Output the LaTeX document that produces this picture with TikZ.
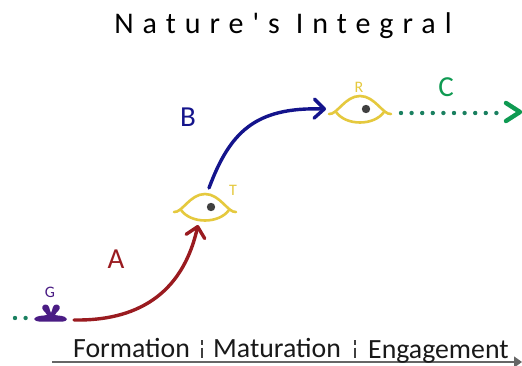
\documentclass[tikz,border=0pt]{standalone}
\usepackage{fontspec}
\setmainfont{Carlito}
\newfontfamily\titlefont[LetterSpace=30]{Carlito}
\usetikzlibrary{arrows.meta}
\definecolor{cA}{HTML}{9A1B20}
\definecolor{cB}{HTML}{14148C}
\definecolor{cC}{HTML}{0F9A52}
\definecolor{cDot}{HTML}{1A8060}
\definecolor{cEye}{HTML}{E5C93E}
\definecolor{cG}{HTML}{4A1C84}
\definecolor{cAxis}{HTML}{666666}
\tikzset{
  lbl/.style={inner sep=0pt,font=\fontsize{29pt}{29pt}\selectfont},
  small/.style={inner sep=0pt,font=\fontsize{16pt}{16pt}\selectfont},
  stage/.style={inner sep=0pt,anchor=base west,font=\fontsize{27.8pt}{27.8pt}\selectfont,text=black!90},
  flow/.style={line width=3.4pt,line cap=round,-{Straight Barb[length=10pt,width=19pt,line width=3.4pt,round]}},
  eyeline/.style={draw=cEye,line width=2.6pt,line cap=round},
  dots/.style={line width=4.4pt,line cap=round,dash pattern=on 0pt off 10.6pt},
  sep/.style={draw=black!75,line width=1.3pt,dash pattern=on 5pt off 2.5pt on 10pt off 2pt}
}
\newcommand{\eyeshape}[3]{%
  \draw[eyeline] (#1-31,#2) .. controls (#1-23,#2+1) and (#1-15,#2-18) .. (#1,#2-18)
     .. controls (#1+15,#2-18) and (#1+23,#2+1) .. (#1+31,#2);
  \draw[eyeline] (#1-24,#2-2) .. controls (#1-14,#2+12) and (#1+14,#2+12) .. (#1+24,#2-2);
  \fill[black!75] (#1+#3,#2-5) circle (4.2pt);
}
\begin{document}
\begin{tikzpicture}[x=1pt,y=-1pt]
\useasboundingbox[fill=white] (0,0) rectangle (522,366);
\node[inner sep=0pt,font=\fontsize{30pt}{30pt}\selectfont\titlefont] (title) at (283,26) {Nature's Integral};

% growth point G
\fill[cG] (34,319) .. controls (36,315) and (44,316) .. (47,315)
  .. controls (46,312) and (41,310) .. (42.5,306.5)
  .. controls (43.5,303.5) and (48,304) .. (49,307)
  .. controls (49.5,309) and (50.5,312) .. (51,313)
  .. controls (51.5,312) and (52.5,309) .. (53,307)
  .. controls (54,304) and (58.5,303.5) .. (59.5,306.5)
  .. controls (61,310) and (56,312) .. (55,315)
  .. controls (58,316) and (65,315) .. (67,319)
  .. controls (66,322.5) and (62,321.5) .. (51,321.5)
  .. controls (40,321.5) and (36,322.5) .. (34,319) -- cycle;
\node[small,text=cG] (g) at (50,292) {G};
\coordinate (gL) at (15,318);
\coordinate (gR) at (30,318);
\draw[cDot,dots] (gL) -- (gR);

% eyes
\eyeshape{205}{212}{6}
\node[small,text=cEye] (t) at (233,190) {T};
\eyeshape{360}{114}{6}
\node[small,text=cEye] (r) at (359,87) {R};

% connectors
\coordinate (aS) at (74,320);
\coordinate (aE) at (198,225);
\draw[flow,cA] (aS) .. controls (135,321) and (182,296) .. (aE);
\coordinate (bS) at (209,188);
\coordinate (bE) at (326,109);
\draw[flow,cB] (bS) .. controls (230,132) and (255,107) .. (bE);
\coordinate (cS) at (401,113);
\coordinate (cE) at (498,113);
\draw[cDot,dots] (cS) -- (cE);
\draw[cC,line width=4.4pt,line cap=round,line join=round] (506,103) -- (520,112) -- (506,121);

\node[lbl,text=cA] (a) at (116,259) {A};
\node[lbl,text=cB] (b) at (188,117) {B};
\node[lbl,text=cC] (c) at (446,87) {C};

% axis
\coordinate (ax0) at (52,362);
\coordinate (ax1) at (522,362);
\draw[cAxis,line width=1.3pt,-{Triangle[length=8pt,width=11pt]}] (ax0) -- (ax1);
\node[stage] (f) at (73,357) {Formation};
\node[stage] (m) at (213,357) {Maturation};
\node[stage] (e) at (368,358) {Engagement};
\draw[sep] (202,340) -- (202,358);
\draw[sep] (355,340) -- (355,358);
\end{tikzpicture}
\end{document}
